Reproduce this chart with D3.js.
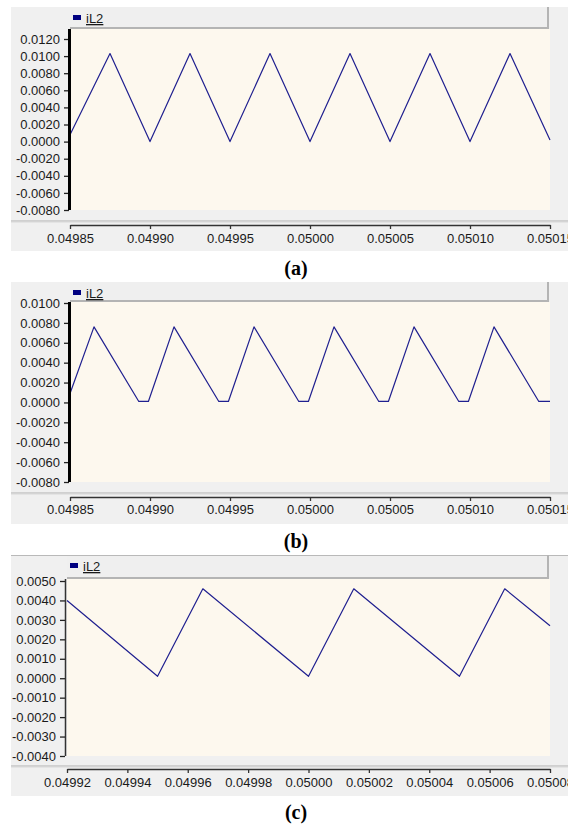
<!DOCTYPE html>
<html><head><meta charset="utf-8">
<script src="https://cdn.jsdelivr.net/npm/d3@7"></script>
<style>
html,body{margin:0;padding:0;background:#fff;}
svg{display:block;}
</style></head>
<body>
<svg id="chart" width="568" height="826"></svg>
<script>
// ---------- DATA ----------
const seriesName = "iL2";
const captions = ["(a)", "(b)", "(c)"];

// Panel (a)
const timeA = [0.049850, 0.049875, 0.049900, 0.049925, 0.049950, 0.049975, 0.050000, 0.050025, 0.050050, 0.050075, 0.050100, 0.050125, 0.050150];
const iL2A  = [0.0008, 0.0103, 0.0000, 0.0103, 0.0000, 0.0103, 0.0000, 0.0103, 0.0000, 0.0103, 0.0000, 0.0103, 0.0002];
const xTicksA = [0.04985, 0.04990, 0.04995, 0.05000, 0.05005, 0.05010, 0.05015];
const yTicksA = [0.012, 0.010, 0.008, 0.006, 0.004, 0.002, 0.000, -0.002, -0.004, -0.006, -0.008];

// Panel (b)
const timeB = [0.049850, 0.049865, 0.049893, 0.049899, 0.049915, 0.049943, 0.049949, 0.049965, 0.049993, 0.049999, 0.050015, 0.050043, 0.050049, 0.050065, 0.050093, 0.050099, 0.050115, 0.050143, 0.050150];
const iL2B  = [0.0009, 0.0076, 0.0001, 0.0001, 0.0076, 0.0001, 0.0001, 0.0076, 0.0001, 0.0001, 0.0076, 0.0001, 0.0001, 0.0076, 0.0001, 0.0001, 0.0076, 0.0001, 0.0001];
const xTicksB = [0.04985, 0.04990, 0.04995, 0.05000, 0.05005, 0.05010, 0.05015];
const yTicksB = [0.010, 0.008, 0.006, 0.004, 0.002, 0.000, -0.002, -0.004, -0.006, -0.008];

// Panel (c)
const timeC = [0.049920, 0.049950, 0.049965, 0.050000, 0.050015, 0.050050, 0.050065, 0.050080];
const iL2C  = [0.0040, 0.0001, 0.0046, 0.0001, 0.0046, 0.0001, 0.0046, 0.0027];
const xTicksC = [0.04992, 0.04994, 0.04996, 0.04998, 0.05000, 0.05002, 0.05004, 0.05006, 0.05008];
const yTicksC = [0.005, 0.004, 0.003, 0.002, 0.001, 0.000, -0.001, -0.002, -0.003, -0.004];

// ---------- LAYOUT / STYLE ----------
const FONT = "'Liberation Sans', Arial, sans-serif";
const panels = [
  {t: timeA, v: iL2A, xt: xTicksA, yt: yTicksA, top: 7, bottom: 251, legendBottom: 29, plotLeft: 70, plotRight: 550,
   yTopVal: 0.012, yTopPx: 39, yBotVal: -0.008, yBotPx: 210, plotBottom: 210, sepY: 221, axisY: 225, labelY: 243,
   thickAxis: true, topLine: false, capY: 275},
  {t: timeB, v: iL2B, xt: xTicksB, yt: yTicksB, top: 282, bottom: 524, legendBottom: 302, plotLeft: 70, plotRight: 550,
   yTopVal: 0.010, yTopPx: 303, yBotVal: -0.008, yBotPx: 482, plotBottom: 482, sepY: 493, axisY: 497, labelY: 514,
   thickAxis: true, topLine: false, capY: 548},
  {t: timeC, v: iL2C, xt: xTicksC, yt: yTicksC, top: 555, bottom: 796, legendBottom: 579, plotLeft: 67, plotRight: 550,
   yTopVal: 0.005, yTopPx: 581, yBotVal: -0.004, yBotPx: 756, plotBottom: 756, sepY: 766, axisY: 769, labelY: 787,
   thickAxis: false, topLine: true, capY: 819}
];

const svg = d3.select("#chart");

panels.forEach((p, i) => {
  const g = svg.append("g");
  // outer gray frame
  g.append("rect").attr("x", 11).attr("y", p.top).attr("width", 568 - 11).attr("height", p.bottom - p.top)
    .attr("fill", "#f0f0f0");
  if (p.topLine) {
    g.append("line").attr("x1", 11).attr("x2", 568).attr("y1", p.top + 0.5).attr("y2", p.top + 0.5)
      .attr("stroke", "#b9b9b9").attr("stroke-width", 1);
  }
  // legend bar
  const lb = g.append("g");
  lb.append("rect").attr("x", p.plotLeft).attr("y", p.top + (p.topLine ? 1 : 0)).attr("width", 548 - p.plotLeft)
    .attr("height", p.legendBottom - p.top - (p.topLine ? 1 : 0)).attr("fill", "#efefef");
  lb.append("line").attr("x1", p.plotLeft).attr("x2", 549).attr("y1", p.legendBottom - 1).attr("y2", p.legendBottom - 1)
    .attr("stroke", "#b4b4b4").attr("stroke-width", 2);
  lb.append("line").attr("x1", 548).attr("x2", 548).attr("y1", p.top).attr("y2", p.legendBottom)
    .attr("stroke", "#b4b4b4").attr("stroke-width", 2);
  lb.append("rect").attr("x", p.plotLeft + 3).attr("y", p.top + 8).attr("width", 8).attr("height", 5)
    .attr("fill", "#000080");
  lb.append("text").attr("x", p.plotLeft + 16).attr("y", p.top + 16)
    .attr("font-family", FONT).attr("font-size", 13).attr("fill", "#1a1a1a")
    .attr("text-decoration", "underline").text(seriesName);

  // plot background
  g.append("rect").attr("x", p.plotLeft).attr("y", p.legendBottom).attr("width", p.plotRight - p.plotLeft)
    .attr("height", p.plotBottom - p.legendBottom).attr("fill", "#fdf8ee");

  // scales
  const x = d3.scaleLinear().domain([p.xt[0], p.xt[p.xt.length - 1]]).range([p.plotLeft, p.plotRight]);
  const y = d3.scaleLinear().domain([p.yBotVal, p.yTopVal]).range([p.yBotPx, p.yTopPx]);

  // line
  const line = d3.line().x((d, k) => x(p.t[k])).y(d => y(d));
  g.append("path").datum(p.v).attr("d", line).attr("fill", "none")
    .attr("stroke", "#1f1f8f").attr("stroke-width", 1.2).attr("stroke-linejoin", "round");

  // y axis
  const yAxis = d3.axisLeft(y).tickValues(p.yt).tickSize(5).tickPadding(4)
    .tickFormat(d => d3.format(".4f")(d).replace("−", "-"));
  const ya = g.append("g").attr("transform", `translate(${p.plotLeft - (p.thickAxis ? 1 : 2)},0)`).call(yAxis);
  ya.select(".domain").remove();
  ya.selectAll(".tick line").attr("stroke", "#222").attr("stroke-width", 1.3);
  ya.selectAll("text").attr("font-family", FONT).attr("font-size", 13).attr("fill", "#1a1a1a");
  g.append("line").attr("x1", p.plotLeft - (p.thickAxis ? 0.5 : 1.5)).attr("x2", p.plotLeft - (p.thickAxis ? 0.5 : 1.5))
    .attr("y1", p.legendBottom).attr("y2", p.plotBottom)
    .attr("stroke", p.thickAxis ? "#000" : "#333").attr("stroke-width", p.thickAxis ? 3 : 1.5);

  // separator above x axis
  g.append("line").attr("x1", 11).attr("x2", 568).attr("y1", p.sepY).attr("y2", p.sepY)
    .attr("stroke", "#b0b0b0").attr("stroke-width", 1);
  g.append("line").attr("x1", 11).attr("x2", 568).attr("y1", p.sepY + 1).attr("y2", p.sepY + 1)
    .attr("stroke", "#d8d8d8").attr("stroke-width", 1);

  // x axis
  const xAxis = d3.axisBottom(x).tickValues(p.xt).tickSizeInner(4).tickSizeOuter(0).tickPadding(6)
    .tickFormat(d3.format(".5f"));
  const xa = g.append("g").attr("transform", `translate(0,${p.axisY})`).call(xAxis);
  xa.select(".domain").attr("stroke", "#333").attr("stroke-width", 1.5);
  xa.selectAll(".tick line").attr("stroke", "#333").attr("stroke-width", 1.3);
  xa.selectAll("text").attr("font-family", FONT).attr("font-size", 13).attr("fill", "#1a1a1a")
    .attr("dy", null).attr("y", p.labelY - p.axisY);

  // caption
  svg.append("text").attr("x", 296).attr("y", p.capY).attr("text-anchor", "middle")
    .attr("font-family", "'Liberation Serif', 'Times New Roman', serif").attr("font-weight", "bold")
    .attr("font-size", 20).attr("fill", "#000").text(captions[i]);
});
</script>
</body></html>
